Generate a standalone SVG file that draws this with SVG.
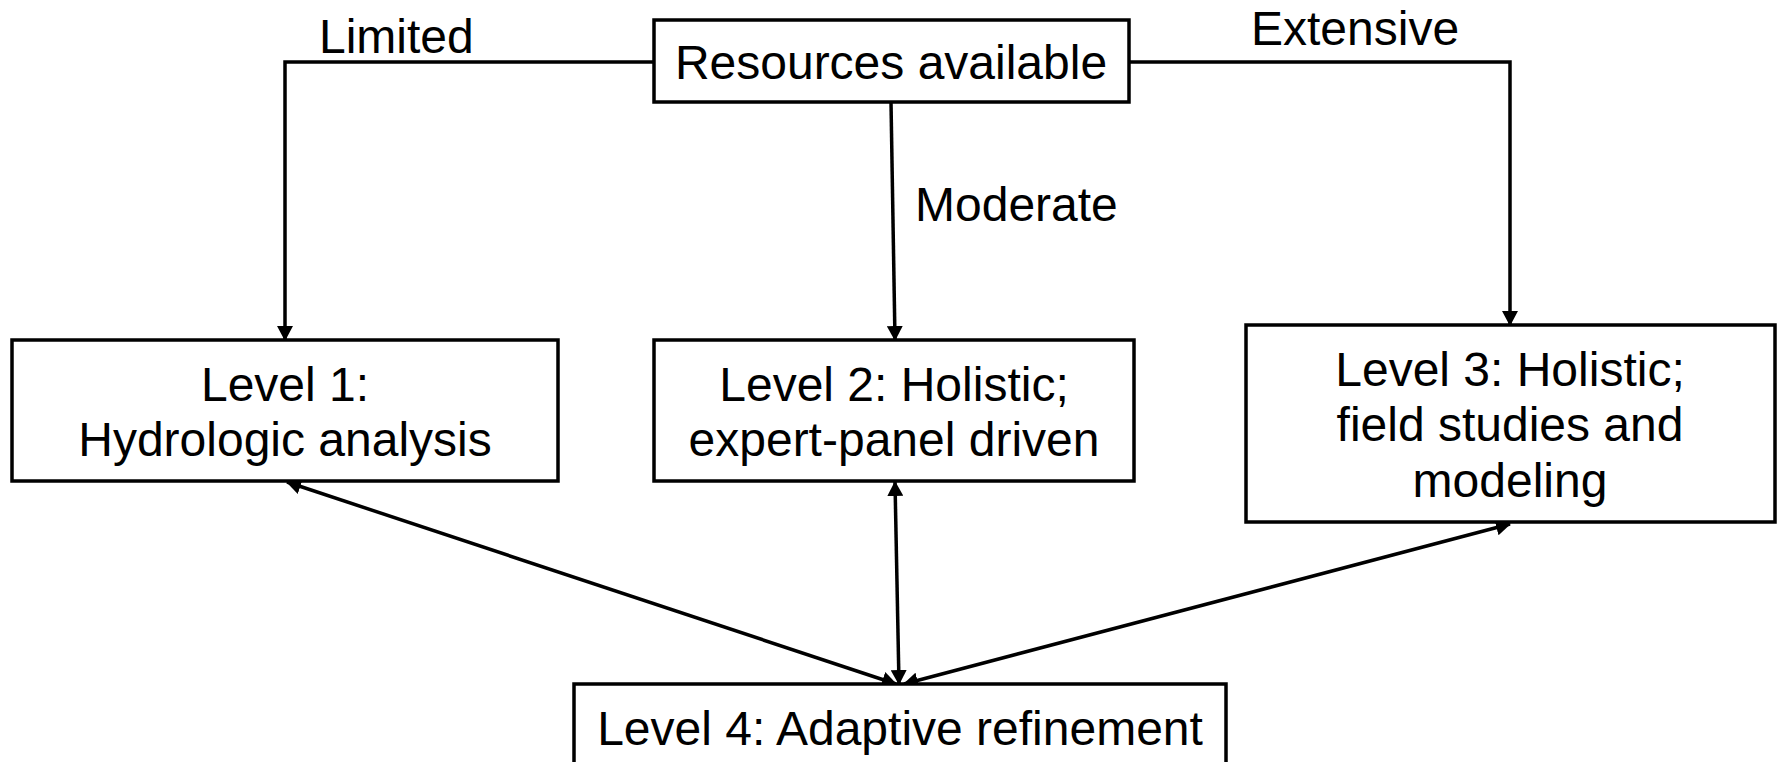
<svg xmlns="http://www.w3.org/2000/svg" width="1778" height="762" viewBox="0 0 1778 762">
  <style>
    .box { fill: #ffffff; stroke: #000000; stroke-width: 3.5; }
    .lbl { font-family: "Liberation Sans", Arial, sans-serif; font-size: 48px; fill: #000000; }
    .mid { text-anchor: middle; }
    .wire { fill: none; stroke: #000000; stroke-width: 3.5; }
  </style>
  <defs>
    <marker id="arrow" viewBox="0 0 15 16" refX="14" refY="8" markerWidth="15" markerHeight="16" markerUnits="userSpaceOnUse" orient="auto-start-reverse">
      <path d="M0,0 L15,8 L0,16 z" fill="#000000"/>
    </marker>
  </defs>
  <rect width="1778" height="762" fill="#ffffff"/>

  <g id="connectors">
    <!-- resources -> levels 1..3 -->
    <polyline class="wire" points="654,62 285,62 285,340" marker-end="url(#arrow)"/>
    <line class="wire" x1="891" y1="102" x2="895" y2="340" marker-end="url(#arrow)"/>
    <polyline class="wire" points="1129,62 1510,62 1510,325" marker-end="url(#arrow)"/>
    <!-- levels 1..3 <-> level 4 -->
    <line class="wire" x1="287" y1="482" x2="896" y2="684" marker-start="url(#arrow)" marker-end="url(#arrow)"/>
    <line class="wire" x1="895" y1="482" x2="899" y2="684" marker-start="url(#arrow)" marker-end="url(#arrow)"/>
    <line class="wire" x1="1510" y1="524" x2="904" y2="684" marker-start="url(#arrow)" marker-end="url(#arrow)"/>
    <!-- branch labels -->
    <text class="lbl" x="319" y="53">Limited</text>
    <text class="lbl" x="915" y="221">Moderate</text>
    <text class="lbl" x="1251" y="45">Extensive</text>
  </g>

  <g id="resources">
    <rect class="box" x="654" y="20" width="475" height="82"/>
    <text class="lbl mid" x="891" y="79">Resources available</text>
  </g>

  <g id="level1">
    <rect class="box" x="12" y="340" width="546" height="141"/>
    <text class="lbl mid" x="285" y="401">Level 1:</text>
    <text class="lbl mid" x="285" y="456">Hydrologic analysis</text>
  </g>

  <g id="level2">
    <rect class="box" x="654" y="340" width="480" height="141"/>
    <text class="lbl mid" x="894" y="401">Level 2: Holistic;</text>
    <text class="lbl mid" x="894" y="456">expert-panel driven</text>
  </g>

  <g id="level3">
    <rect class="box" x="1246" y="325" width="529" height="197"/>
    <text class="lbl mid" x="1510" y="386">Level 3: Holistic;</text>
    <text class="lbl mid" x="1510" y="441">field studies and</text>
    <text class="lbl mid" x="1510" y="497">modeling</text>
  </g>

  <g id="level4">
    <rect class="box" x="574" y="684" width="652" height="90"/>
    <text class="lbl mid" x="900" y="745">Level 4: Adaptive refinement</text>
  </g>
</svg>
